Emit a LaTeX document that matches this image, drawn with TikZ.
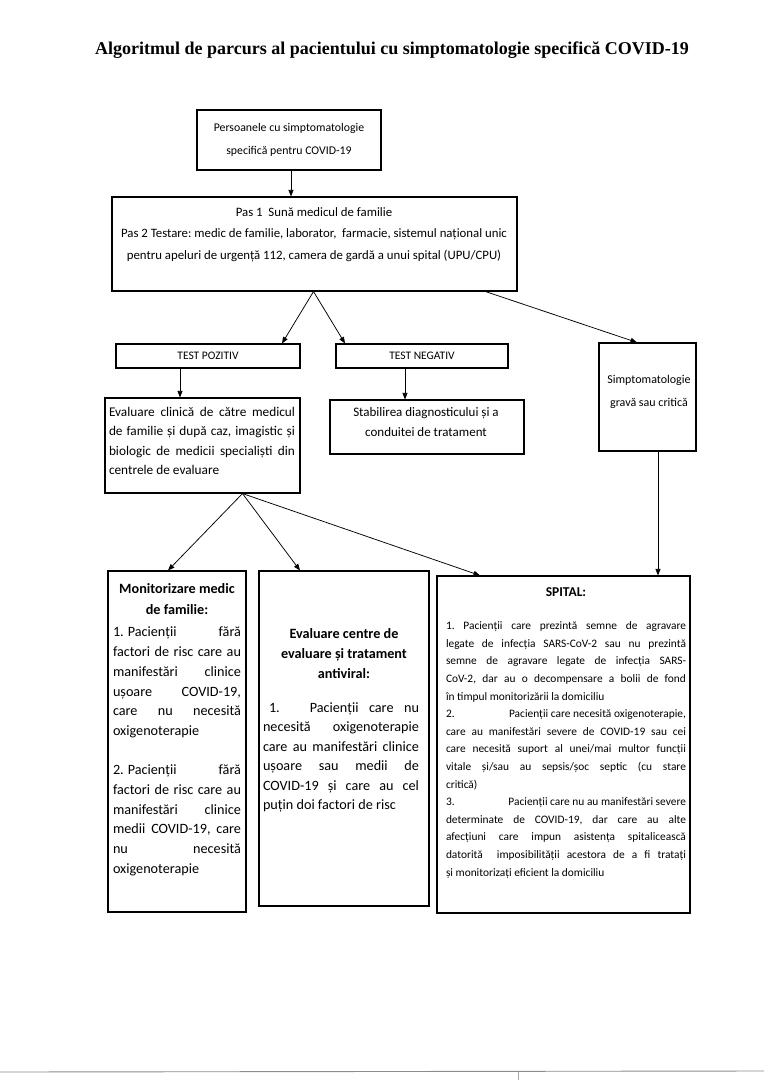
\documentclass[tikz,border=0pt]{standalone}
\usepackage{fontspec}
\setmainfont{Carlito}
\newfontfamily\titlefont{Liberation Serif}
\usetikzlibrary{arrows.meta}
\frenchspacing
\newlength\mylw
\newcommand\myjl[1]{\hbox to \mylw{#1}}
\newcommand\myll[1]{\hbox to \mylw{#1\hfil}}
\tikzset{
  box/.style={draw, line width=1.1pt, inner sep=0pt},
  txt/.style={inner sep=0pt},
  conn/.style={-{Triangle[length=6.5pt,width=5pt]}, line width=0.75pt},
}
\begin{document}
\begin{tikzpicture}[x=1pt,y=-1pt]
\useasboundingbox (0,0) rectangle (764,1080);
% title
\node[inner sep=0pt, font=\titlefont\bfseries\fontsize{18}{20}\selectfont] (title) at (392,50) {Algoritmul de parcurs al pacientului cu simptomatologie specifică COVID-19};
% boxes
\node[box, minimum width=184, minimum height=60] (b1) at (289,140) {};
\node[box, minimum width=405, minimum height=94] (b2) at (314.5,244) {};
\node[box, minimum width=184, minimum height=24] (pos) at (208,356) {};
\node[box, minimum width=172, minimum height=24] (neg) at (422,356) {};
\node[box, minimum width=97, minimum height=108] (simpt) at (647.5,397) {};
\node[box, minimum width=195, minimum height=95] (eval) at (202.5,445.5) {};
\node[box, minimum width=194, minimum height=54] (stab) at (427,427) {};
\node[box, minimum width=138, minimum height=341] (mon) at (177,741.5) {};
\node[box, minimum width=170, minimum height=335] (evc) at (344,738.5) {};
\node[box, minimum width=253, minimum height=337] (spit) at (563.5,744.5) {};
% texts
\node[txt, align=center, font=\fontsize{11.8}{23}\selectfont] (t1) at (289,140) {Persoanele cu simptomatologie\\specifică pentru COVID-19};
\node[txt, align=center, font=\fontsize{12.8}{21.5}\selectfont] (t2) at (314,234.5) {Pas 1\ \ Sună medicul de familie\\Pas 2 Testare: medic de familie, laborator,\ \ farmacie, sistemul național unic\\pentru apeluri de urgență 112, camera de gardă a unui spital (UPU/CPU)};
\node[txt, font=\fontsize{11.5}{14}\selectfont] (tpos) at (pos) {TEST POZITIV};
\node[txt, font=\fontsize{11.5}{14}\selectfont] (tneg) at (neg) {TEST NEGATIV};
\node[txt, align=center, font=\fontsize{12}{23}\selectfont] (tsim) at (649,391.5) {Simptomatologie\\gravă sau critică};
\node[txt, font=\fontsize{13.3}{19.5}\selectfont] (tev) at (202,441) {\vbox{\mylw=186pt
\myjl{Evaluare clinică de către medicul}%
\myjl{de familie și după caz, imagistic și}%
\myjl{biologic de medicii specialiști din}%
\myll{centrele de evaluare}}};
\node[txt, align=center, font=\fontsize{13}{20}\selectfont] (tst) at (426,422) {Stabilirea diagnosticului și a\\conduitei de tratament};
% monitorizare
\node[txt, align=center, font=\bfseries\fontsize{14.2}{21}\selectfont] (hmon) at (177,599) {Monitorizare medic\\de familie:};
\node[txt, font=\fontsize{14.2}{19.7}\selectfont] (tmon) at (177,751.5) {\vbox{\mylw=128pt
\myjl{1.\hspace{4pt}Pacienții fără}%
\myjl{factori de risc care au}%
\myjl{manifestări clinice}%
\myjl{ușoare COVID-19,}%
\myjl{care nu necesită}%
\myll{oxigenoterapie}%
\myll{}%
\myjl{2.\hspace{4pt}Pacienții fără}%
\myjl{factori de risc care au}%
\myjl{manifestări clinice}%
\myjl{medii COVID-19, care}%
\myjl{nu necesită}%
\myll{oxigenoterapie}}};
% evaluare centre
\node[txt, align=center, font=\bfseries\fontsize{14.2}{20}\selectfont] (hevc) at (344,654) {Evaluare centre de\\evaluare și tratament\\antiviral:};
\node[txt, font=\fontsize{14.2}{19.4}\selectfont] (tevc) at (341,757.5) {\vbox{\mylw=156pt
\myjl{\hspace{6pt}1.\hspace{30pt}Pacienții care nu}%
\myjl{necesită oxigenoterapie}%
\myjl{care au manifestări clinice}%
\myjl{ușoare sau medii de}%
\myjl{COVID-19 și care au cel}%
\myll{puțin doi factori de risc}}};
% spital
\node[txt, font=\bfseries\fontsize{13.5}{20}\selectfont] (hsp) at (566,592) {SPITAL:};
\node[txt, font=\fontsize{11.4}{17.6}\selectfont] (tsp) at (566,750) {\vbox{\mylw=240pt
\myjl{1. Pacienții care prezintă semne de agravare}%
\myjl{legate de infecția SARS-CoV-2 sau nu prezintă}%
\myjl{semne de agravare legate de infecția SARS-}%
\myjl{CoV-2, dar au o decompensare a bolii de fond}%
\myll{în timpul monitorizării la domiciliu}%
\myjl{2.\hfill Pacienții care necesită oxigenoterapie,}%
\myjl{care au manifestări severe de COVID-19 sau cei}%
\myjl{care necesită suport al unei/mai multor funcții}%
\myjl{vitale și/sau au sepsis/șoc septic (cu stare}%
\myll{critică)}%
\myjl{3.\hfill Pacienții care nu au manifestări severe}%
\myjl{determinate de COVID-19, dar care au alte}%
\myjl{afecțiuni care impun asistența spitalicească}%
\myjl{datorită\ \ imposibilității acestora de a fi tratați}%
\myll{și monitorizați eficient la domiciliu}}};
% connectors
\draw[conn] ([xshift=2]b1.south) -- ([xshift=2]b1.south |- b2.north);
\draw[conn] ([xshift=-1]b2.south) -- ([xshift=74]pos.north);
\draw[conn] ([xshift=-1]b2.south) -- ([xshift=-77]neg.north);
\draw[conn] ([xshift=-32]b2.south east) -- ([xshift=-10.5]simpt.north);
\draw[conn] ([xshift=-28]pos.south) -- ([xshift=-28]pos.south |- eval.north);
\draw[conn] ([xshift=-17]neg.south) -- ([xshift=-17]neg.south |- stab.north);
\draw[conn] ([xshift=40]eval.south) -- ([xshift=-9]mon.north);
\draw[conn] ([xshift=40]eval.south) -- ([xshift=-44]evc.north);
\draw[conn] ([xshift=40]eval.south) -- ([xshift=-83.5]spit.north);
\draw[conn] ([xshift=10.5]simpt.south) -- ([xshift=10.5]simpt.south |- spit.north);
% scan edge line
\draw[black!45, line width=0.9pt] (0,1072) -- (764,1071);
\draw[black!35, line width=0.5pt] (518,1072) -- (518,1080);
\end{tikzpicture}
\end{document}
